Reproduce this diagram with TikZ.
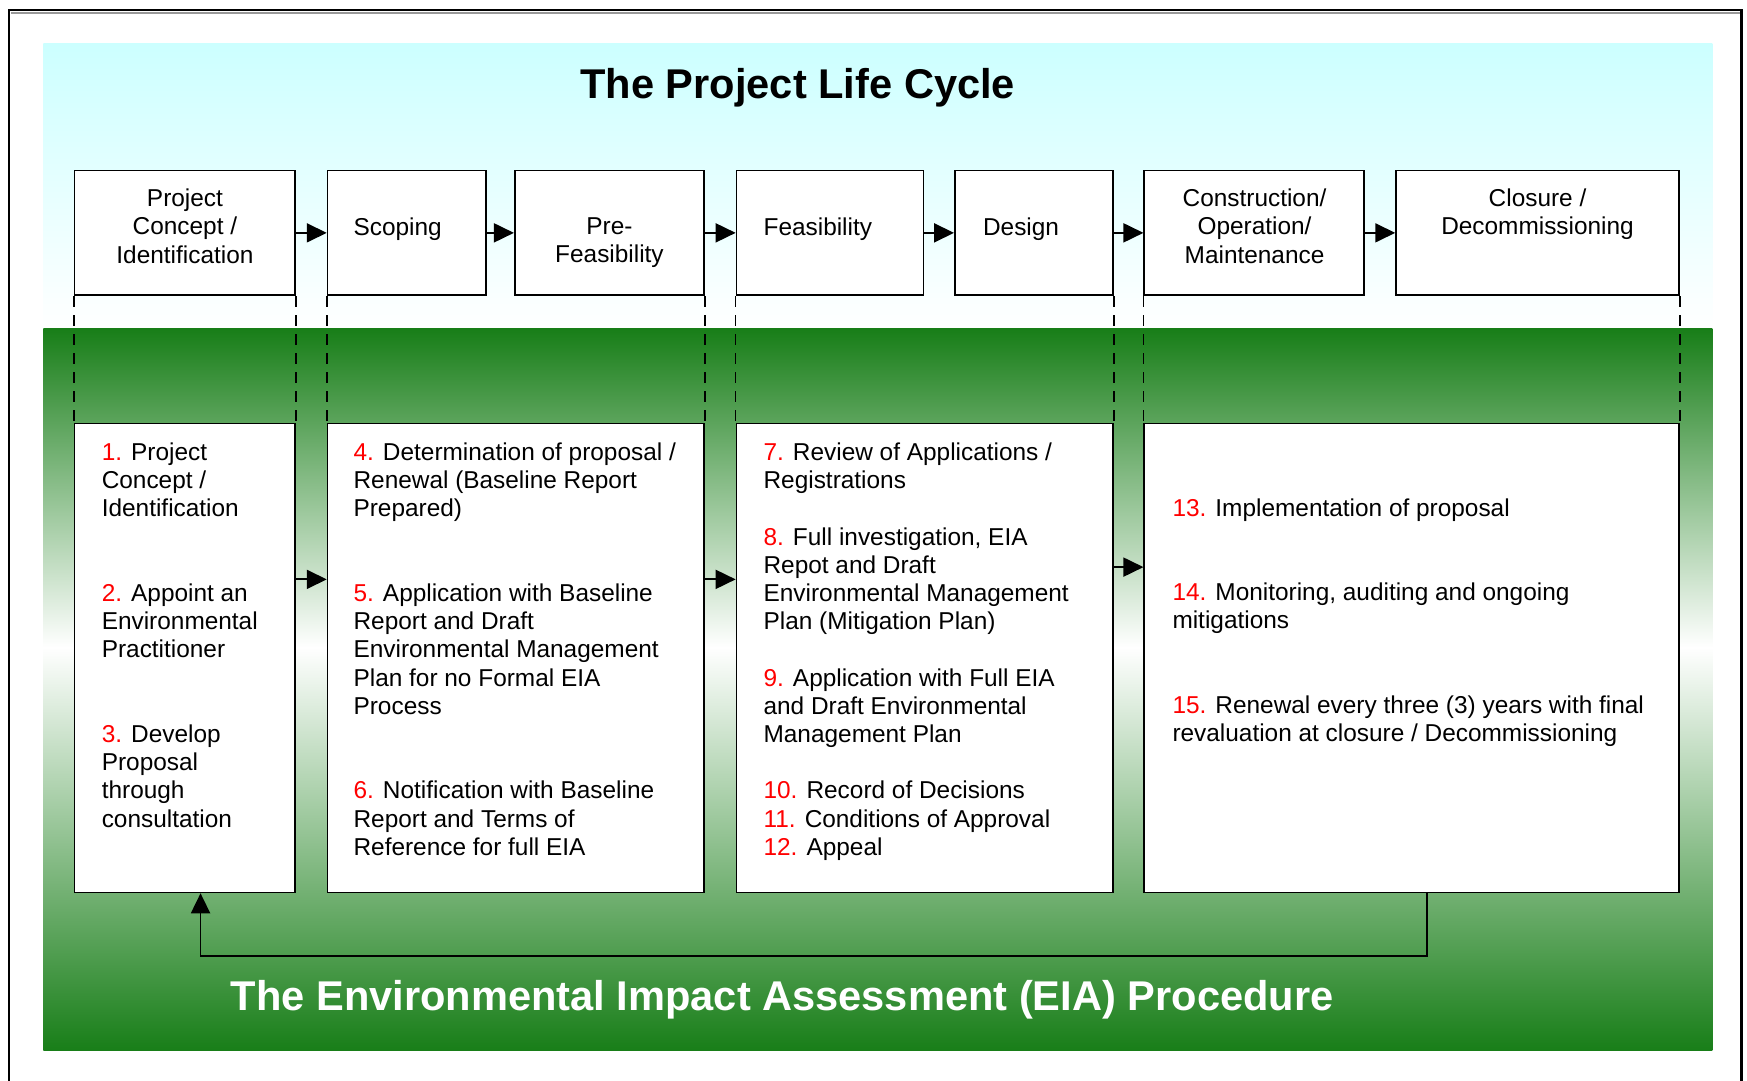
\documentclass[tikz,border=0pt]{standalone}
\usepackage{fontspec}
\setmainfont{Liberation Sans}
\usetikzlibrary{arrows.meta,fit}
\tikzset{>={Triangle[length=10pt,width=9.5pt]}}
\definecolor{clcyan}{RGB}{204,255,255}
\definecolor{clgreen}{RGB}{24,126,24}
\definecolor{clnum}{RGB}{255,0,0}
\definecolor{clrim}{gray}{.6}
\newcommand{\nr}[1]{\textcolor{clnum}{#1.}}
\tikzset{
    phase/.style={draw, line width=0.8pt, fill=white, inner sep=0pt},
    stagebox/.style={draw, line width=0.8pt, fill=white, inner sep=0pt},
    txt/.style={inner sep=0pt, font=\fontsize{12.2}{14.1}\selectfont},
    headline/.style={inner sep=0pt, font=\fontsize{20.8}{25}\selectfont\bfseries},
    flow/.style={->, line width=0.9pt},
    link/.style={dashed, line width=0.8pt, dash pattern=on 5.5pt off 4pt}
}

\begin{document}
\begin{tikzpicture}[x=0.5571pt, y=-0.5571pt]
    \useasboundingbox(0, 0) rectangle (1568, 970);
    % backgrounds
    \shade[top color=clcyan, bottom color=white](39, 39) rectangle (1537, 295);
    \shade[top color=clgreen, bottom color=white](39, 295) rectangle (1537, 581);
    \shade[top color=white, bottom color=clgreen](39, 581) rectangle (1537, 943);
    \draw[line width=1.2pt](8, 975)--(8, 9)--(1563, 9)--(1563, 975);
    \draw[clrim, line width=1pt](9.5, 11.5)--(1561.5, 11.5);

    % life cycle phases
    \node[phase, fit={(67, 153) (265, 265)}](pc){};
    \node[phase, fit={(294, 153) (436, 265)}](sc){};
    \node[phase, fit={(462, 153) (632, 265)}](pf){};
    \node[phase, fit={(661, 153) (829, 265)}](fe){};
    \node[phase, fit={(857, 153) (999, 265)}](de){};
    \node[phase, fit={(1027, 153) (1224, 265)}](co){};
    \node[phase, fit={(1253, 153) (1507, 265)}](cl){};
    \node[txt, align=center](pc-t) at (166, 203){Project\\Concept /\\Identification};
    \node[txt, anchor=west](sc-t) at (317, 206){Scoping};
    \node[txt, align=center](pf-t) at (547, 218){Pre-\\Feasibility};
    \node[txt, anchor=west](fe-t) at (685, 206){Feasibility};
    \node[txt, anchor=west](de-t) at (882, 206){Design};
    \node[txt, align=center](co-t) at (1126, 203){Construction/\\Operation/\\Maintenance};
    \node[txt, align=center](cl-t) at (1380, 192){Closure /\\Decommissioning};
    \foreach \a/\b in {pc/sc, sc/pf, pf/fe, fe/de, de/co, co/cl}
        \draw[flow](\a)--(\b);

    % EIA stages
    \node[stagebox, fit={(67, 380) (265, 801)}](ba){};
    \node[stagebox, fit={(294, 380) (632, 801)}](bb){};
    \node[stagebox, fit={(661, 380) (999, 801)}](bc){};
    \node[stagebox, fit={(1027, 380) (1507, 801)}](bd){};
    \foreach \a/\b in {pc.south west/ba.north west, pc.south east/ba.north east,
        sc.south west/bb.north west, pf.south east/bb.north east,
        fe.south west/bc.north west, de.south east/bc.north east,
        co.south west/bd.north west, cl.south east/bd.north east}
        \draw[link](\a)--(\b);

    \node[txt, align=left, anchor=north west](ba-t) at (91, 397){%
        \nr{1} Project\\Concept /\\Identification\\[28.2pt]
        \nr{2} Appoint an\\Environmental\\Practitioner\\[28.2pt]
        \nr{3} Develop\\Proposal\\through\\consultation};
    \node[txt, align=left, anchor=north west](bb-t) at (317, 397){%
        \nr{4} Determination of proposal /\\Renewal (Baseline Report\\Prepared)\\[28.2pt]
        \nr{5} Application with Baseline\\Report and Draft\\Environmental Management\\Plan for no Formal EIA\\Process\\[28.2pt]
        \nr{6} Notification with Baseline\\Report and Terms of\\Reference for full EIA};
    \node[txt, align=left, anchor=north west](bc-t) at (685, 397){%
        \nr{7} Review of Applications /\\Registrations\\[14.1pt]
        \nr{8} Full investigation, EIA\\Repot and Draft\\Environmental Management\\Plan (Mitigation Plan)\\[14.1pt]
        \nr{9} Application with Full EIA\\and Draft Environmental\\Management Plan\\[14.1pt]
        \nr{10} Record of Decisions\\
        \nr{11} Conditions of Approval\\
        \nr{12} Appeal};
    \node[txt, align=left, anchor=north west](bd-t) at (1052, 447){%
        \nr{13} Implementation of proposal\\[28.2pt]
        \nr{14} Monitoring, auditing and ongoing\\mitigations\\[28.2pt]
        \nr{15} Renewal every three (3) years with final\\revaluation at closure / Decommissioning};

    \coordinate(r1) at (0, 520);
    \coordinate(r2) at (0, 509);
    \draw[flow](ba.east |- r1)--(bb.west |- r1);
    \draw[flow](bb.east |- r1)--(bc.west |- r1);
    \draw[flow](bc.east |- r2)--(bd.west |- r2);
    \coordinate(fbr) at (1281, 858);
    \coordinate(fbl) at (180, 858);
    \draw[flow](bd.south -| fbr)--(fbr)--(fbl)--(ba.south -| fbl);

    % titles
    \node[headline](lc) at (716, 79){The Project Life Cycle};
    \node[headline, text=white](eia) at (702, 897){The Environmental Impact Assessment (EIA) Procedure};
\end{tikzpicture}
\end{document}
